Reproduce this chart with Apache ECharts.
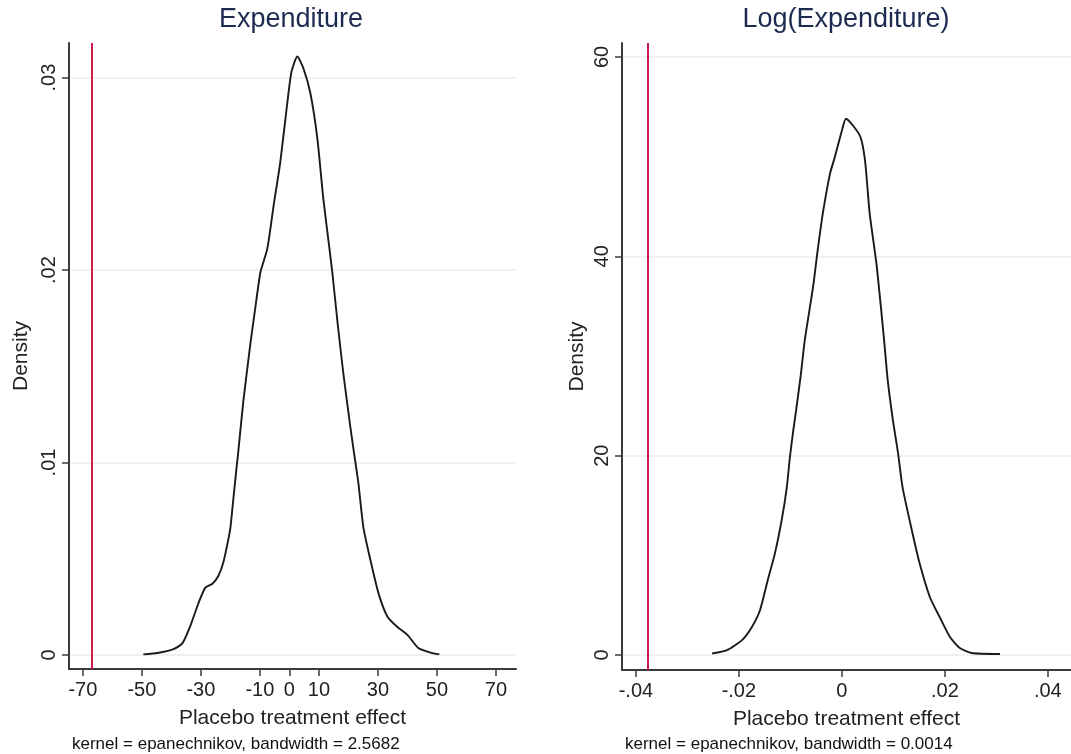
<!DOCTYPE html>
<html>
<head>
<meta charset="utf-8">
<script src="https://cdn.jsdelivr.net/npm/echarts@6/dist/echarts.min.js"></script>
<style>html,body{margin:0;padding:0;background:#fff}#c{width:1071px;height:754px}</style>
</head>
<body>
<div id="c"></div>
<script>
// ---- data ----
const titles = ['Expenditure', 'Log(Expenditure)'];
const notes = ['kernel = epanechnikov, bandwidth = 2.5682', 'kernel = epanechnikov, bandwidth = 0.0014'];
const xName = 'Placebo treatment effect';
const yName = 'Density';

const expXTicks = [-70, -50, -30, -10, 0, 10, 30, 50, 70];
const expYTicks = [0, 0.01, 0.02, 0.03];
const expYLabels = ['0', '.01', '.02', '.03'];
const expActual = -67;
const expCurve = [
  [-49.5,0.00003],[-44.7,0.0001],[-39.3,0.0003],[-36.3,0.0006],[-33.6,0.0015],[-30.8,0.0027],
  [-28.5,0.0035],[-26.1,0.0037],[-24.1,0.0041],[-22.4,0.0048],[-20.7,0.0060],[-20.0,0.0066],
  [-19.0,0.0081],[-18.0,0.0096],[-17.3,0.0106],[-15.6,0.0132],[-13.2,0.0162],[-11.5,0.0181],
  [-9.8,0.0199],[-7.5,0.0211],[-5.3,0.0234],[-3.1,0.0256],[-0.7,0.0287],[0.7,0.0303],
  [2.7,0.0311],[4.7,0.0305],[7.1,0.0292],[9.5,0.0268],[11.5,0.0237],[13.5,0.0212],
  [14.6,0.0198],[16.3,0.0173],[18.3,0.0146],[20.7,0.0118],[22.0,0.0104],[23.4,0.0089],
  [25.1,0.0066],[27.5,0.0049],[30.2,0.0032],[33.2,0.0020],[36.6,0.00145],[40.0,0.00104],
  [43.7,0.00036],[47.8,0.00012],[50.8,0.00003]
];

const logXTicks = [-0.04, -0.02, 0, 0.02, 0.04];
const logXLabels = ['-.04', '-.02', '0', '.02', '.04'];
const logYTicks = [0, 20, 40, 60];
const logActual = -0.0377;
const logCurve = [
  [-0.0252,0.15],[-0.0223,0.5],[-0.0194,1.5],[-0.0175,2.8],[-0.0159,4.5],[-0.0144,7.5],
  [-0.0130,10.2],[-0.0117,13.5],[-0.0107,16.8],[-0.0101,19.8],[-0.0095,22.3],[-0.0089,24.5],
  [-0.0080,28],[-0.0072,31.6],[-0.0056,36.9],[-0.0047,40.6],[-0.0037,44.3],[-0.0023,48.3],
  [-0.0014,49.9],[0,52.6],[0.0008,53.8],[0.0035,52.1],[0.0045,49.6],[0.0054,44.3],
  [0.0068,38.9],[0.0082,31.6],[0.0089,27.6],[0.0099,23.6],[0.0109,20.3],[0.0118,16.8],
  [0.0136,12.5],[0.0151,9.2],[0.0171,5.8],[0.0190,3.8],[0.0210,1.8],[0.0229,0.7],
  [0.0252,0.2],[0.0307,0.1]
];

// ---- chart ----
const FONT = '"Liberation Sans", Arial, sans-serif';
const axisCol = '#3a3a3a';
const txtCol = '#222';
const gridCol = '#e6efef';

function xAxisDef(gridIndex, min, max, ticks, fmt) {
  return {
    type: 'value', gridIndex, min, max,
    name: xName, nameLocation: 'middle', nameGap: 39,
    nameTextStyle: {fontFamily: FONT, fontSize: 21, color: txtCol},
    axisLine: {show: true, onZero: false, lineStyle: {color: axisCol, width: 2}},
    axisTick: {show: true, length: 7, lineStyle: {color: axisCol, width: 1.5}, customValues: ticks},
    axisLabel: {fontFamily: FONT, fontSize: 20, color: txtCol, margin: 11, customValues: ticks, formatter: fmt},
    splitLine: {show: false}
  };
}
function yAxisDef(gridIndex, min, max, ticks, fmt, gap) {
  return {
    type: 'value', gridIndex, min, max,
    name: yName, nameLocation: 'middle', nameGap: gap,
    nameTextStyle: {fontFamily: FONT, fontSize: 21, color: txtCol},
    axisLine: {show: true, onZero: false, lineStyle: {color: axisCol, width: 2}},
    axisTick: {show: true, length: 7, lineStyle: {color: axisCol, width: 1.5}, customValues: ticks},
    axisLabel: {fontFamily: FONT, fontSize: 20, color: txtCol, margin: 10, rotate: 90, customValues: ticks, formatter: fmt},
    splitLine: {show: true, lineStyle: {color: gridCol, width: 1.5}}
  };
}

const expYFmt = v => { const i = expYTicks.findIndex(t => Math.abs(t - v) < 1e-9); return i >= 0 ? expYLabels[i] : ''; };
const logXFmt = v => { const i = logXTicks.findIndex(t => Math.abs(t - v) < 1e-9); return i >= 0 ? logXLabels[i] : ''; };

function redLine(v) {
  return {silent: true, symbol: ['none', 'none'], precision: 8, label: {show: false},
    lineStyle: {color: '#cc1c4a', width: 2, type: 'solid'}, data: [{xAxis: v}]};
}

const chart = echarts.init(document.getElementById('c'), null, {renderer: 'canvas'});
chart.setOption({
  animation: false,
  backgroundColor: '#fff',
  title: [
    {text: titles[0], left: 291, top: 6, padding: 0, textAlign: 'center', textStyle: {fontFamily: FONT, fontSize: 27, fontWeight: 'normal', color: '#1c2b4f'}},
    {text: titles[1], left: 846, top: 6, padding: 0, textAlign: 'center', textStyle: {fontFamily: FONT, fontSize: 27, fontWeight: 'normal', color: '#1c2b4f'}},
    {text: notes[0], left: 72, top: 736, padding: 0, textStyle: {fontFamily: FONT, fontSize: 17, fontWeight: 'normal', color: '#111'}},
    {text: notes[1], left: 625, top: 736, padding: 0, textStyle: {fontFamily: FONT, fontSize: 17, fontWeight: 'normal', color: '#111'}}
  ],
  grid: [
    {left: 69, top: 43, width: 447, height: 626},
    {left: 622, top: 43, width: 449, height: 627}
  ],
  xAxis: [
    xAxisDef(0, -74.7, 76.8, expXTicks, v => String(v)),
    xAxisDef(1, -0.0427, 0.0445, logXTicks, logXFmt)
  ],
  yAxis: [
    yAxisDef(0, -0.00073, 0.0318, expYTicks, expYFmt, 37),
    yAxisDef(1, -1.5, 61.4, logYTicks, v => String(v), 34)
  ],
  series: [
    {
      type: 'line', xAxisIndex: 0, yAxisIndex: 0, data: expCurve, showSymbol: false, symbol: 'none',
      smooth: 0.2, lineStyle: {color: '#1a1a1a', width: 1.9},
      markLine: redLine(expActual)
    },
    {
      type: 'line', xAxisIndex: 1, yAxisIndex: 1, data: logCurve, showSymbol: false, symbol: 'none',
      smooth: 0.2, lineStyle: {color: '#1a1a1a', width: 1.9},
      markLine: redLine(logActual)
    }
  ]
});
</script>
</body>
</html>
